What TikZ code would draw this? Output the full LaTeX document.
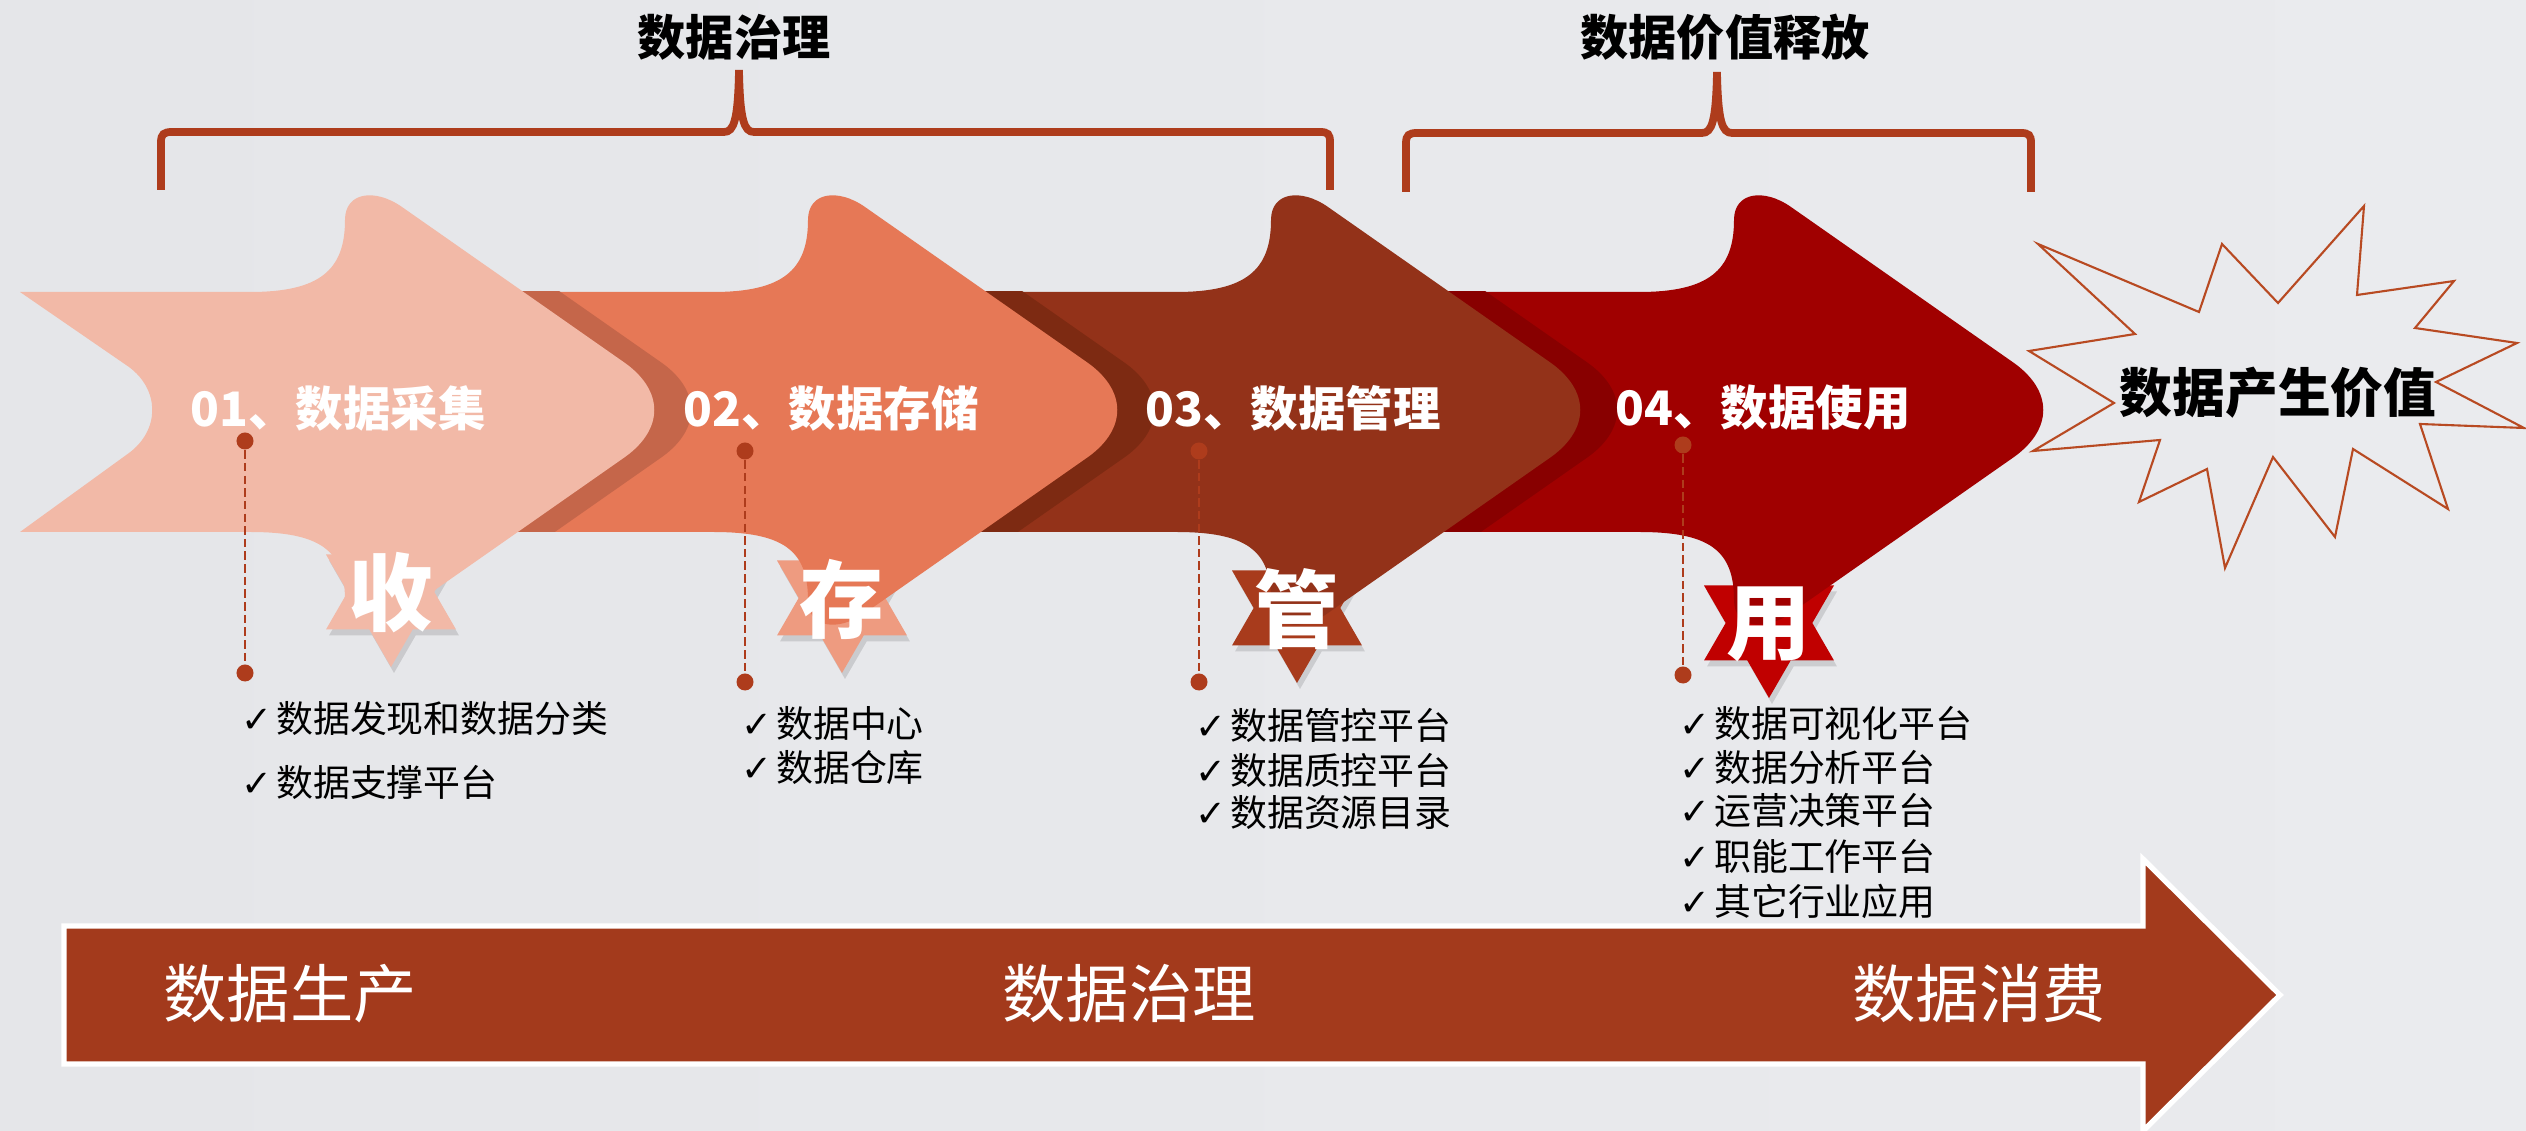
\documentclass[tikz,border=0pt]{standalone}
\usepackage{fontspec}
\setmainfont{Noto Sans CJK SC}
\newfontfamily\dvsans{DejaVu Sans}

\definecolor{bgleft}{HTML}{E5E6E9}
\definecolor{bgmid}{HTML}{F3F3F5}
\definecolor{bgright}{HTML}{EAEBEE}
\definecolor{stageA}{HTML}{F2B9A7}
\definecolor{stageB}{HTML}{E67856}
\definecolor{stageC}{HTML}{933219}
\definecolor{stageD}{HTML}{A00000}
\definecolor{shadeA}{HTML}{C5664A}
\definecolor{shadeB}{HTML}{7D2A12}
\definecolor{shadeC}{HTML}{880000}
\definecolor{badgeA}{HTML}{F2B9A7}
\definecolor{badgeB}{HTML}{EE9B80}
\definecolor{badgeC}{HTML}{A83B1C}
\definecolor{badgeD}{HTML}{C00000}
\definecolor{rust}{HTML}{AE3C1C}
\definecolor{flowred}{HTML}{A33A1C}
\definecolor{burstline}{HTML}{B84A22}

\tikzset{
  title/.style={font=\bfseries\fontsize{13.7}{16}\selectfont, text=black},
  stagelabel/.style={font=\bfseries\fontsize{13.5}{16}\selectfont, text=white},
  badgetext/.style={font=\bfseries\fontsize{24}{28}\selectfont, text=white},
  item/.style={anchor=west, inner sep=0pt, text=black, font=\fontsize{10.5}{12}\selectfont},
  flowtext/.style={text=white, font=\fontsize{18}{20}\selectfont},
  bursttext/.style={font=\bfseries\fontsize{15}{18}\selectfont, text=black},
  dot/.style={circle, fill=rust, inner sep=0pt, minimum size=0.17cm},
  dashline/.style={rust, line width=0.8pt, dash pattern=on 2.4pt off 1.2pt},
  brace/.style={draw=rust, line width=2.2pt},
  burst/.style={draw=burstline, line width=0.6pt}
}

% one stage arrow: #1 tip x, #2 left x
\newcommand{\stagepath}[2]{%
  (#2,292) -- ({#1-406},292)
  .. controls ({#1-336},292) and ({#1-311},270) .. ({#1-311},220)
  .. controls ({#1-311},192) and ({#1-281},188) .. ({#1-254},207)
  -- ({#1-31},363)
  .. controls ({#1+8},391) and ({#1+8},429) .. ({#1-31},457)
  -- ({#1-254},613)
  .. controls ({#1-281},632) and ({#1-311},628) .. ({#1-311},600)
  .. controls ({#1-311},550) and ({#1-336},532) .. ({#1-406},532)
  -- (#2,532)}

% six pointed badge: #1 x, #2 y
\newcommand{\hexstar}[2]{%
  ({#1-65},{#2-37.5}) -- ({#1+65},{#2-37.5}) -- (#1,{#2+75}) -- cycle
  ({#1+65},{#2+37.5}) -- ({#1-65},{#2+37.5}) -- (#1,{#2-75}) -- cycle}

\newcommand{\chk}{{\dvsans\fontsize{10.5}{12}\selectfont ✓}\hspace{1pt}}

\begin{document}
\begin{tikzpicture}[x=0.01cm, y=-0.01cm]

\shade[left color=bgleft, middle color=bgmid, right color=bgright] (0,0) rectangle (2526,1131);
\useasboundingbox (0,0) rectangle (2526,1131);

% titles and braces
\node[title] (gov) at (734,37) {数据治理};
\node[title] (rel) at (1725,37) {数据价值释放};

\draw[brace] (161,190) -- (161,142) .. controls (161,134) and (164,132) .. (172,132) -- (724,132)
  .. controls (734,132) and (738,120) .. (739,70) .. controls (740,120) and (744,132) .. (754,132)
  -- (1320,132) .. controls (1328,132) and (1330,134) .. (1330,142) -- (1330,190);
\draw[brace] (1406,192) -- (1406,143) .. controls (1406,135) and (1409,133) .. (1417,133) -- (1702,133)
  .. controls (1712,133) and (1716,121) .. (1717,72) .. controls (1718,121) and (1722,133) .. (1732,133)
  -- (2021,133) .. controls (2029,133) and (2031,135) .. (2031,143) -- (2031,192);

% badges
\foreach \cx/\cy/\c in {391/592/badgeA, 842/598/badgeB, 1297/608/badgeC, 1769/623/badgeD} {
  \fill[black, opacity=0.12] \hexstar{\cx+3}{\cy+6};
  \fill[\c] \hexstar{\cx}{\cy};
}

% stages, back to front
\fill[stageD] \stagepath{2045}{1440} -- cycle;
\begin{scope}
  \clip (1440,292) rectangle (2045,532);
  \fill[shadeC] \stagepath{1619}{1000} -- cycle;
\end{scope}
\fill[stageC] \stagepath{1582}{980} -- cycle;
\begin{scope}
  \clip (980,292) rectangle (1582,532);
  \fill[shadeB] \stagepath{1156}{500} -- cycle;
\end{scope}
\fill[stageB] \stagepath{1119}{490} -- cycle;
\begin{scope}
  \clip (490,292) rectangle (1119,532);
  \fill[shadeA] \stagepath{693}{40} -- cycle;
\end{scope}
\fill[stageA] \stagepath{656}{20} -- (129,453) .. controls (160,430) and (160,390) .. (129,367) -- cycle;

\node[stagelabel] (s1) at (338,408) {01、数据采集};
\node[stagelabel] (s2) at (831,408) {02、数据存储};
\node[stagelabel] (s3) at (1293,408) {03、数据管理};
\node[stagelabel] (s4) at (1763,408) {04、数据使用};

\node[badgetext] (k1) at (391,593) {收};
\node[badgetext] (k2) at (842,599) {存};
\node[badgetext] (k3) at (1297,609) {管};
\node[badgetext] (k4) at (1769,624) {用};

% dotted leaders
\node[dot] (p1) at (245,441) {};
\node[dot] (q1) at (245,673) {};
\node[dot] (p2) at (745,451) {};
\node[dot] (q2) at (745,682) {};
\node[dot] (p3) at (1199,451) {};
\node[dot] (q3) at (1199,682) {};
\node[dot] (p4) at (1683,445) {};
\node[dot] (q4) at (1683,675) {};
\draw[dashline] (p1) -- (q1);
\draw[dashline] (p2) -- (q2);
\draw[dashline] (p3) -- (q3);
\draw[dashline] (p4) -- (q4);

% lists
\node[item] (i11) at (241,718) {\chk 数据发现和数据分类};
\node[item] (i12) at (241,782) {\chk 数据支撑平台};
\node[item] (i21) at (741,724) {\chk 数据中心};
\node[item] (i22) at (741,768) {\chk 数据仓库};
\node[item] (i31) at (1195,725) {\chk 数据管控平台};
\node[item] (i32) at (1195,770) {\chk 数据质控平台};
\node[item] (i33) at (1195,813) {\chk 数据资源目录};
\node[item] (i41) at (1679,723) {\chk 数据可视化平台};
\node[item] (i42) at (1679,767) {\chk 数据分析平台};
\node[item] (i43) at (1679,810) {\chk 运营决策平台};
\node[item] (i44) at (1679,856) {\chk 职能工作平台};
\node[item] (i45) at (1679,901) {\chk 其它行业应用};

% bottom flow
\fill[flowred, draw=white, line width=1.5pt] (64,926) -- (2143,926) -- (2143,859) -- (2280,995)
  -- (2143,1131) -- (2143,1064) -- (64,1064) -- cycle;
\node[flowtext] (f1) at (290,994) {数据生产};
\node[flowtext] (f2) at (1129,994) {数据治理};
\node[flowtext] (f3) at (1979,994) {数据消费};

% value burst
\draw[burst] (2038,244) -- (2135,334) -- (2029,351) -- (2114,403) -- (2033,451) -- (2160,440)
  -- (2139,502) -- (2207,469) -- (2225,568) -- (2273,457) -- (2335,537) -- (2353,449)
  -- (2448,509) -- (2420,424) -- (2524,428) -- (2436,382) -- (2517,343) -- (2415,328)
  -- (2454,281) -- (2357,295) -- (2364,206) -- (2278,303) -- (2222,244) -- (2199,312) -- cycle;
\node[bursttext] (val) at (2278,393) {数据产生价值};

\end{tikzpicture}
\end{document}
